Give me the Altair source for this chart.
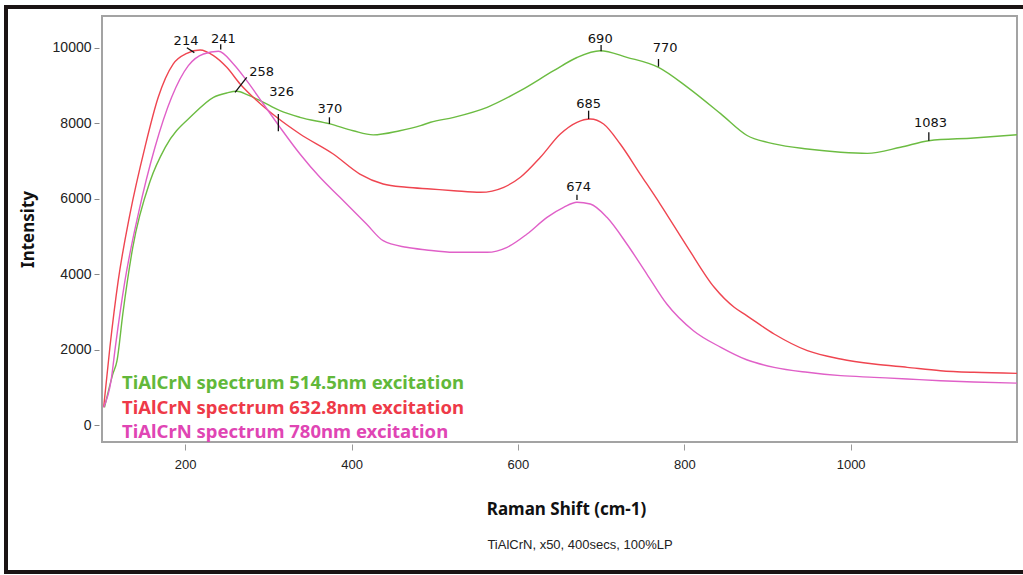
import altair as alt
import pandas as pd

# ---- data ----
green_x = [103, 113, 118, 125, 137, 158, 176, 210, 234, 250, 262, 275, 290, 314, 338, 374, 402, 426,
           458, 483, 495, 523, 563, 603, 643, 671, 699, 731, 769, 804, 844, 875, 908, 948, 988, 1020,
           1060, 1094, 1148, 1200]
green_y = [470, 1350, 1700, 2940, 4710, 6475, 7360, 8240, 8685, 8800, 8845, 8750, 8600, 8330, 8155, 7980,
           7800, 7690, 7800, 7934, 8023, 8155, 8420, 8860, 9390, 9740, 9920, 9745, 9480, 8950, 8245, 7680,
           7450, 7315, 7230, 7200, 7360, 7535, 7607, 7694]

red_x = [102, 109.5, 119.5, 133.6, 151.6, 167.6, 185.7, 202, 218, 234, 250, 266, 286, 310, 338, 378, 410,
         438, 466, 495, 523, 555, 583, 603, 627, 651, 671, 687, 703, 723, 747, 771, 804, 836, 860, 875,
         908, 948, 988, 1028, 1068, 1108, 1148, 1200]
red_y = [470, 2060, 3825, 5590, 7360, 8685, 9570, 9850, 9940, 9790, 9480, 9040, 8600, 8155, 7713, 7183,
         6652, 6388, 6300, 6255, 6210, 6167, 6300, 6565, 7095, 7713, 8023, 8110, 7978, 7447, 6652, 5857,
         4710, 3650, 3120, 2900, 2412, 1970, 1750, 1617, 1529, 1440, 1397, 1370]

pink_x = [102, 111, 116, 127.6, 143.6, 163.7, 183.7, 203.8, 222, 240, 258, 274, 294, 314, 338, 362, 386,
          418, 438, 466, 490, 523, 563, 587, 611, 635, 655, 671, 687, 707, 731, 755, 779, 811, 844, 875,
          908, 948, 988, 1028, 1068, 1108, 1148, 1200]
pink_y = [470, 1190, 2060, 3825, 5590, 7360, 8685, 9524, 9833, 9904, 9568, 9126, 8508, 7890, 7183, 6565,
          6035, 5327, 4885, 4710, 4640, 4577, 4577, 4710, 5062, 5504, 5769, 5902, 5857, 5504, 4797, 4002,
          3207, 2500, 2059, 1730, 1529, 1397, 1308, 1264, 1220, 1175, 1140, 1110]

series_names = ["514.5nm", "632.8nm", "780nm"]
series_colors = ["#6cbc42", "#ef4550", "#e060c8"]

# peak annotations: label text, label position, tick segment
peak_labels = ["214", "241", "258", "326", "370", "690", "770", "685", "674", "1083"]
peak_lx = [201, 246, 292, 316, 374, 699, 777, 685, 673, 1096]
peak_ly = [10178, 10231, 9348, 8818, 8375, 10231, 9984, 8508, 6316, 7996]
tick_x1 = [202, 242.7, 274, 312, 373.4, 700, 769, 685, 671, 1094]
tick_x2 = [211, 242.7, 260, 312, 373.4, 700, 769, 685, 671, 1094]
tick_y1 = [10000, 10090, 9215, 8243, 8155, 10072, 9700, 8331, 6104, 7757]
tick_y2 = [9870, 9950, 8818, 7784, 7978, 9904, 9497, 8110, 5963, 7535]

legend_texts = ["TiAlCrN spectrum  514.5nm excitation",
                "TiAlCrN spectrum 632.8nm excitation",
                "TiAlCrN spectrum  780nm excitation"]
legend_colors = ["#62b83a", "#ee3a48", "#e045b4"]
legend_rows_y = [367, 392, 416]

x_ticks = [200, 400, 600, 800, 1000]
y_ticks = [0, 2000, 4000, 6000, 8000, 10000]

caption = "TiAlCrN, x50, 400secs, 100%LP"

# ---- build tables ----
rows = []
for name, xs, ys in zip(series_names, [green_x, red_x, pink_x], [green_y, red_y, pink_y]):
    for xv, yv in zip(xs, ys):
        rows.append({"series": name, "shift": xv, "intensity": yv})
df = pd.DataFrame(rows)

ann = pd.DataFrame({"label": peak_labels, "lx": peak_lx, "ly": peak_ly,
                    "tx1": tick_x1, "tx2": tick_x2, "ty1": tick_y1, "ty2": tick_y2})

xscale = alt.Scale(domain=[100, 1200], nice=False, zero=False)
yscale = alt.Scale(domain=[-450, 10840], nice=False, zero=False)

lines = alt.Chart(df).mark_line(strokeWidth=1.4, interpolate="monotone").encode(
    x=alt.X("shift:Q", scale=xscale,
            axis=alt.Axis(values=x_ticks, format="d", title="Raman Shift (cm-1)", grid=False, domain=False,
                          tickColor="#999999", tickSize=6, offset=2, labelPadding=8,
                          labelFont="Liberation Sans", labelFontSize=13, labelColor="#222222",
                          titleFont="Noto Sans", titleFontSize=17, titleFontWeight="bold",
                          titleColor="#111111", titleY=65, titleX=464, titleBaseline="middle")),
    y=alt.Y("intensity:Q", scale=yscale,
            axis=alt.Axis(values=y_ticks, format="d", title="Intensity", grid=False, domain=False,
                          tickColor="#888888", tickSize=5, offset=3, labelPadding=3,
                          labelFont="Liberation Sans", labelFontSize=14, labelColor="#222222",
                          titleFont="Noto Sans", titleFontSize=17, titleFontWeight="bold",
                          titleColor="#111111", titleX=-71, titleY=213, titleBaseline="middle",
                          titleAngle=270)),
    color=alt.Color("series:N", scale=alt.Scale(domain=series_names, range=series_colors), legend=None),
)

ticks = alt.Chart(ann).mark_rule(color="#111111", strokeWidth=1.3).encode(
    x=alt.X("tx1:Q", scale=xscale), x2="tx2:Q",
    y=alt.Y("ty1:Q", scale=yscale), y2="ty2:Q",
)

labels = alt.Chart(ann).mark_text(font="DejaVu Sans", fontSize=13, color="#111111",
                                  baseline="middle", align="center").encode(
    x=alt.X("lx:Q", scale=xscale), y=alt.Y("ly:Q", scale=yscale), text="label:N",
)

legend_layers = []
for t, c, yy in zip(legend_texts, legend_colors, legend_rows_y):
    legend_layers.append(
        alt.Chart(pd.DataFrame({"t": [t]})).mark_text(
            font="Noto Sans", fontSize=18.5, fontWeight="bold", align="left", baseline="middle", color=c
        ).encode(x=alt.value(20), y=alt.value(yy), text="t:N")
    )

cap = alt.Chart(pd.DataFrame({"t": [caption]})).mark_text(
    font="Liberation Sans", fontSize=13, color="#222222", align="center", baseline="middle"
).encode(x=alt.value(478), y=alt.value(529), text="t:N")

frame = alt.Chart(pd.DataFrame({"f": [1]})).mark_rect(
    fill="transparent", stroke="#1b1414", strokeWidth=4
).encode(x=alt.value(-96), x2=alt.value(935), y=alt.value(-9), y2=alt.value(556))

chart = alt.layer(lines, ticks, labels, *legend_layers, cap, frame).properties(
    width=915, height=426,
    autosize=alt.AutoSizeParams(type="none"),
    padding={"left": 102, "top": 16, "right": 6, "bottom": 133},
    background="white",
).configure_view(stroke="#a3a3a3", strokeWidth=2)

chart.save("out.html", embed_options={"renderer": "svg", "actions": False})
